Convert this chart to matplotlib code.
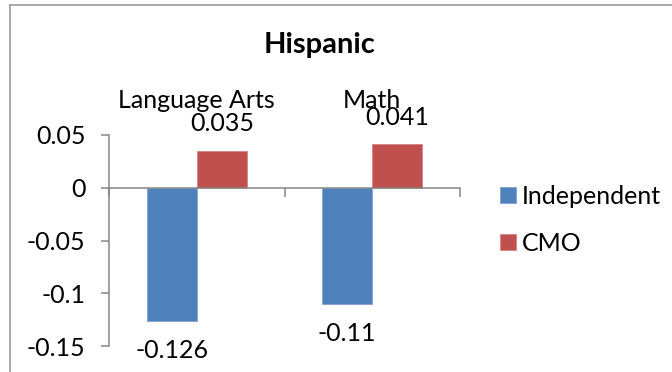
#!/usr/bin/python

import numpy as np
import matplotlib.pyplot as plt
import matplotlib.transforms as mtransforms
from matplotlib.lines import Line2D

categories = ["Language Arts", "Math"]
independent = [-0.126, -0.11]
cmo = [0.035, 0.041]
series_names = ["Independent", "CMO"]

plt.rcParams['font.family'] = ['Lato', 'DejaVu Sans']

BLUE = '#4F81BD'
RED = '#C0504D'
AXIS_GRAY = '#868686'
FONT = 18

fig = plt.figure(figsize=(6.72, 3.72), dpi=100)
ax = fig.add_axes([109 / 672.0, 26 / 372.0, 351 / 672.0, 211 / 372.0])

# chart area border (only top and left edges are visible)
fig.add_artist(Line2D([10 / 672.0, 10 / 672.0], [0, 1 - 5 / 372.0], color='#9a9a9a', lw=1.2))
fig.add_artist(Line2D([10 / 672.0, 1], [1 - 5 / 372.0, 1 - 5 / 372.0], color='#9a9a9a', lw=1.2))

x = np.arange(len(categories))
barwidth = 0.285

b1 = ax.bar(x - barwidth / 2, independent, barwidth, color=BLUE, edgecolor='#7ea3d3', linewidth=0.6)
b2 = ax.bar(x + barwidth / 2, cmo, barwidth, color=RED, edgecolor='#d98583', linewidth=0.6)

# value labels, outside end
for rects, vals in ((b1, independent), (b2, cmo)):
    for r, v in zip(rects, vals):
        cx = r.get_x() + r.get_width() / 2
        if v >= 0:
            off = 19.5
        else:
            off = -21.5
        ax.annotate(str(v), (cx, v), xytext=(0, off), textcoords='offset points',
                    ha='center', va='center', fontsize=FONT)

ax.set_xlim(-0.5, len(categories) - 0.5)
ax.set_ylim(-0.15, 0.05)
ax.set_yticks([0.05, 0, -0.05, -0.1, -0.15])
ax.set_yticklabels(['0.05', '0', '-0.05', '-0.1', '-0.15'])

# category ticks sit between groups, names go above the plot
ax.set_xticks([-0.5, 0.5, 1.5])
ax.set_xticklabels([])
trans = mtransforms.blended_transform_factory(ax.transData, ax.transAxes)
for i, name in enumerate(categories):
    ax.text(i, 1.165, name, transform=trans, ha='center', va='center', fontsize=FONT)

for s in ('top', 'right'):
    ax.spines[s].set_visible(False)
ax.spines['bottom'].set_position(('data', 0))
for s in ('left', 'bottom'):
    ax.spines[s].set_color(AXIS_GRAY)
    ax.spines[s].set_linewidth(1.1)

ax.tick_params(axis='y', direction='out', length=6, width=1.1, color=AXIS_GRAY,
               pad=11, labelsize=FONT)
ax.tick_params(axis='x', direction='out', length=6.5, width=1.1, color=AXIS_GRAY)

fig.text(320 / 672.0, 1 - 45 / 372.0, "Hispanic", ha='center', va='center',
         fontsize=21, fontweight='bold')

leg = fig.legend([b1, b2], series_names, loc='center left',
                 bbox_to_anchor=(500 / 672.0, 1 - 220 / 372.0),
                 frameon=False, fontsize=FONT, handlelength=0.62, handleheight=0.62,
                 handletextpad=0.25, labelspacing=0.95, borderpad=0, borderaxespad=0)

fig.savefig('out.png', dpi=100)
